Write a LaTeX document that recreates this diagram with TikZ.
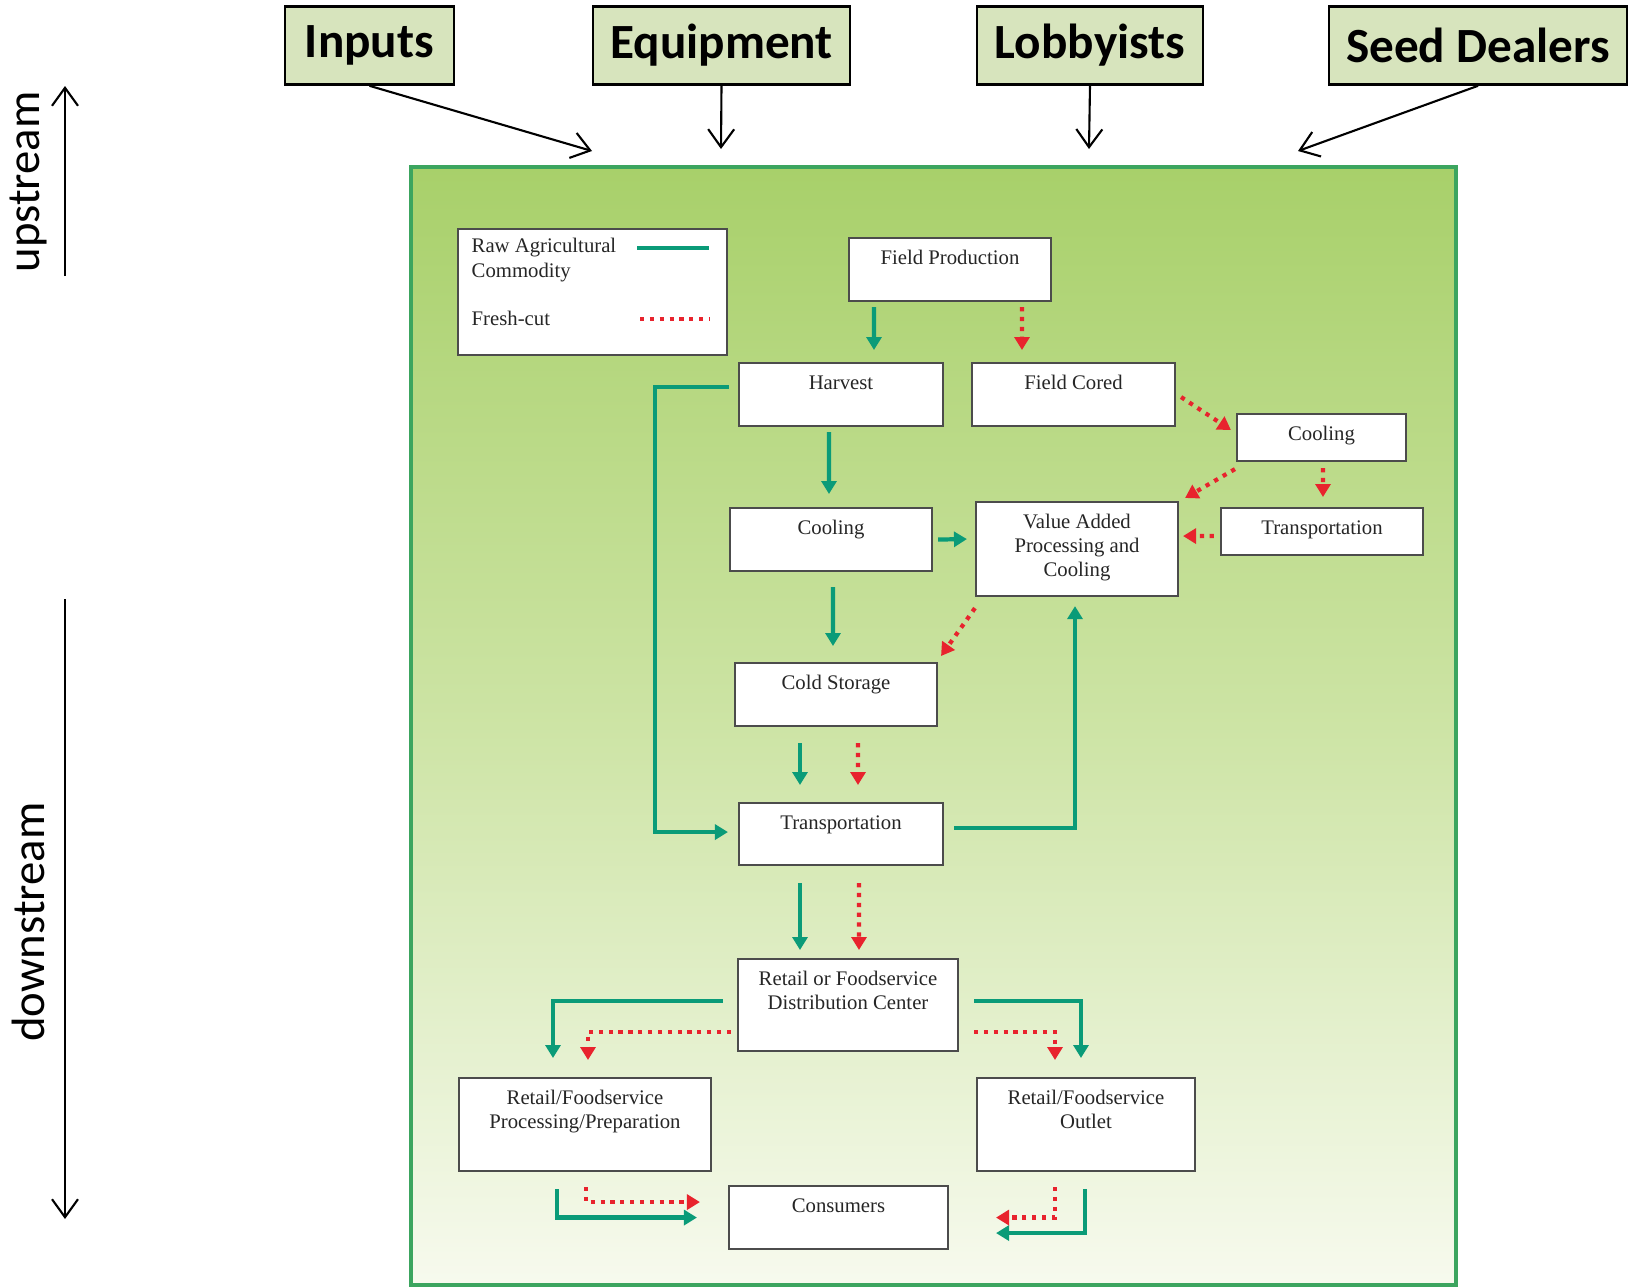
\documentclass[tikz,border=0pt]{standalone}
\usepackage{fontspec}
\setmainfont{Liberation Serif}
\setsansfont{Carlito}
\usepackage{tikz}
\usetikzlibrary{arrows.meta,calc}

\definecolor{rawgreen}{RGB}{10,155,120}
\definecolor{cutred}{RGB}{232,35,45}
\definecolor{panelA}{RGB}{168,208,106}
\definecolor{panelB}{RGB}{205,228,165}
\definecolor{panelC}{RGB}{247,250,238}
\definecolor{paneledge}{RGB}{60,165,95}
\definecolor{sourcefill}{RGB}{215,228,189}

\begin{document}
\begin{tikzpicture}[x=1cm,y=1cm,
	stage/.style={draw=black!70, line width=0.6pt, fill=white, text=black!85, font=\fontsize{5.9}{6.9}\selectfont, align=center, inner sep=0pt, anchor=north, minimum width=2.02cm, text height=0.26cm, text depth=0.37cm},
	twoline/.style={text height=0.503cm},
	source/.style={draw=black, line width=0.8pt, fill=sourcefill, font=\sffamily\bfseries\fontsize{14}{16}\selectfont, anchor=north, minimum height=0.78cm, inner sep=0pt},
	side/.style={font=\sffamily\fontsize{13.3}{15}\selectfont, rotate=90, inner sep=0pt},
	flow/.style={line width=0.6pt, -{Straight Barb[length=1.8mm,width=2.6mm]}},
	raw/.style={rawgreen, line width=1.2pt, -{Triangle[length=1.3mm,width=1.5mm]}},
	cut/.style={cutred, line width=1.2pt, dash pattern=on 1.2pt off 1.6pt, -{Triangle[length=1.3mm,width=1.5mm]}}]
	\useasboundingbox (0,0) rectangle (16.33,-12.87);

	% suppliers on top
	\node[source, minimum width=1.69cm] (inputs) at (3.695,-0.05) {Inputs};
	\node[source, minimum width=2.57cm] (equipment) at (7.215,-0.05) {Equipment};
	\node[source, minimum width=2.26cm] (lobbyists) at (10.90,-0.05) {Lobbyists};
	\node[source, minimum width=2.98cm] (seed) at (14.78,-0.05) {Seed Dealers};

	% green panel
	\node[draw=paneledge, line width=1pt, top color=panelA, bottom color=panelC, middle color=panelB, minimum width=10.45cm, minimum height=11.18cm, inner sep=0pt] (panel) at (9.335,-7.26) {};

	\coordinate (inend) at (5.92,-1.51);
	\coordinate (eqend) at (7.21,-1.49);
	\coordinate (lbend) at (10.89,-1.49);
	\coordinate (sdend) at (12.98,-1.51);
	\draw[flow] (inputs.south) -- (inend);
	\draw[flow] (equipment.south) -- (eqend);
	\draw[flow] (lobbyists.south) -- (lbend);
	\draw[flow] (seed.south) -- (sdend);

	% upstream / downstream
	\node[side] (uptxt) at (0.28,-1.82) {upstream};
	\node[side] (downtxt) at (0.28,-9.22) {downstream};
	\coordinate (upfoot) at (0.65,-2.76);
	\coordinate (uptip) at (0.65,-0.86);
	\coordinate (downfoot) at (0.65,-5.99);
	\coordinate (downtip) at (0.65,-12.19);
	\draw[flow] (upfoot) -- (uptip);
	\draw[flow] (downfoot) -- (downtip);

	% legend
	\node[draw=black!70, line width=0.6pt, fill=white, minimum width=2.69cm, minimum height=1.26cm, anchor=north west, inner sep=0pt] (legend) at (4.57,-2.28) {};
	\node[anchor=base west, align=left, inner sep=0pt, text=black!85, font=\fontsize{5.9}{6.9}\selectfont] (rawtxt) at (4.71,-2.77) {Raw Agricultural\\Commodity};
	\node[anchor=base west, inner sep=0pt, text=black!85, font=\fontsize{5.9}{6.9}\selectfont] (cuttxt) at (4.71,-3.25) {Fresh-cut};
	\draw[rawgreen, line width=1.2pt] (6.37,-2.48) -- (7.09,-2.48);
	\draw[cutred, line width=1.2pt, dash pattern=on 1.2pt off 1.6pt] (6.40,-3.19) -- (7.09,-3.19);

	% stages
	\node[stage] (fieldprod) at (9.50,-2.37) {Field Production};
	\node[stage, minimum width=2.04cm] (harvest) at (8.41,-3.62) {Harvest};
	\node[stage, minimum width=2.03cm] (cored) at (10.735,-3.62) {Field Cored};
	\node[stage, minimum width=1.69cm, text depth=0.21cm] (coolR) at (13.215,-4.13) {Cooling};
	\node[stage] (coolL) at (8.31,-5.07) {Cooling};
	\node[stage, text height=0.747cm, text depth=0.193cm] (vadd) at (10.77,-5.01) {Value Added\\Processing and\\Cooling};
	\node[stage, text depth=0.21cm] (transR) at (13.22,-5.07) {Transportation};
	\node[stage] (cold) at (8.36,-6.62) {Cold Storage};
	\node[stage, minimum width=2.04cm, text depth=0.36cm] (transM) at (8.41,-8.02) {Transportation};
	\node[stage, twoline, minimum width=2.20cm, text depth=0.417cm] (dc) at (8.48,-9.58) {Retail or Foodservice\\Distribution Center};
	\node[stage, twoline, minimum width=2.52cm, text depth=0.427cm] (prep) at (5.85,-10.77) {Retail/Foodservice\\Processing/Preparation};
	\node[stage, twoline, minimum width=2.18cm, text depth=0.427cm] (outlet) at (10.86,-10.77) {Retail/Foodservice\\Outlet};
	\node[stage, minimum width=2.19cm] (consumers) at (8.385,-11.85) {Consumers};

	% raw agricultural commodity
	\draw[raw] ($(fieldprod.south)+(-0.76,-0.05)$) -- ($(harvest.north)+(0.33,0.12)$);
	\draw[raw] ($(harvest.south)+(-0.12,-0.05)$) -- ($(coolL.north)+(-0.02,0.13)$);
	\draw[raw] ($(harvest.west)+(-0.09,0.075)$) -- ++(-0.74,0) |- ($(transM.west)+(-0.10,0.02)$);
	\draw[raw] ($(coolL.east)+(0.05,0)$) -- ($(vadd.west)+(-0.08,0.10)$);
	\draw[raw] ($(coolL.south)+(0.02,-0.15)$) -- ($(cold.north)+(-0.03,0.16)$);
	\draw[raw] ($(cold.south)+(-0.36,-0.16)$) -- ($(transM.north)+(-0.41,0.17)$);
	\draw[raw] ($(transM.east)+(0.10,0.06)$) -| ($(vadd.south)+(-0.02,-0.09)$);
	\draw[raw] ($(transM.south)+(-0.41,-0.17)$) -- ($(dc.north)+(-0.48,0.08)$);
	\draw[raw] ($(dc.west)+(-0.14,0.04)$) -| ($(prep.north)+(-0.32,0.19)$);
	\draw[raw] ($(dc.east)+(0.15,0.04)$) -| ($(outlet.north)+(-0.05,0.19)$);
	\draw[raw] ($(prep.south)+(-0.28,-0.17)$) |- ($(consumers.west)+(-0.31,0)$);
	\draw[raw] ($(outlet.south)+(-0.01,-0.17)$) |- ($(consumers.east)+(0.47,-0.155)$);

	% fresh-cut
	\draw[cut] ($(fieldprod.south)+(0.72,-0.05)$) -- ($(cored.north)+(-0.515,0.12)$);
	\draw[cut] ($(cored.east)+(0.05,-0.025)$) -- ($(coolR.west)+(-0.05,0.075)$);
	\draw[cut] ($(coolR.south west)+(-0.01,-0.07)$) -- ($(vadd.north east)+(0.06,0.03)$);
	\draw[cut] ($(coolR.south)+(0.015,-0.06)$) -- ($(transR.north)+(0.01,0.10)$);
	\draw[cut] ($(transR.west)+(-0.06,-0.045)$) -- ($(vadd.east)+(0.04,0.13)$);
	\draw[cut] ($(vadd.south west)+(0,-0.11)$) -- ($(cold.north east)+(0.03,0.06)$);
	\draw[cut] ($(cold.south)+(0.22,-0.16)$) -- ($(transM.north)+(0.17,0.17)$);
	\draw[cut] ($(transM.south)+(0.18,-0.17)$) -- ($(dc.north)+(0.11,0.08)$);
	\draw[cut] ($(dc.west)+(-0.06,-0.27)$) -| ($(prep.north)+(0.03,0.17)$);
	\draw[cut] ($(dc.east)+(0.15,-0.27)$) -| ($(outlet.north)+(-0.31,0.17)$);
	\draw[cut] ($(prep.south)+(0.01,-0.15)$) |- ($(consumers.west)+(-0.28,0.155)$);
	\draw[cut] ($(outlet.south)+(-0.31,-0.15)$) |- ($(consumers.east)+(0.47,0)$);
\end{tikzpicture}
\end{document}
